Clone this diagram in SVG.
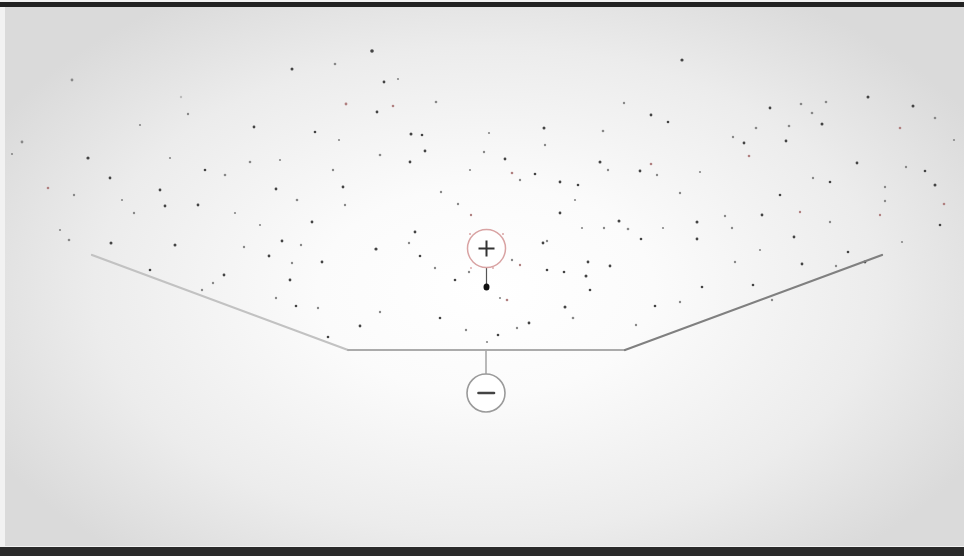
<svg xmlns="http://www.w3.org/2000/svg" width="964" height="556" viewBox="0 0 964 556">
<defs>
<radialGradient id="bg" cx="486" cy="290" r="560" gradientUnits="userSpaceOnUse" gradientTransform="translate(486 290) scale(1 0.62) translate(-486 -290)">
<stop offset="0" stop-color="#ffffff"/>
<stop offset="0.3" stop-color="#fbfbfb"/>
<stop offset="0.7" stop-color="#ececec"/>
<stop offset="1" stop-color="#dadada"/>
</radialGradient>
</defs>
<style>
.a{fill:#444}
.b{fill:#888}
.c{fill:#b08080}
.e{fill:#bbb}
.ln{fill:none;stroke-linecap:round}
</style>
<rect width="964" height="556" fill="#f2f2f2"/>
<rect x="5" y="7" width="959" height="539" fill="url(#bg)"/>
<rect x="0" y="2" width="964" height="5" fill="#222"/>
<rect x="0" y="547" width="964" height="9" fill="#2a2a2a"/>
<g id="dots">
<circle class="a" cx="372" cy="51" r="1.8"/><circle class="a" cx="682" cy="60" r="1.6"/><circle class="a" cx="292" cy="69" r="1.5"/><circle class="b" cx="335" cy="64" r="1.3"/><circle class="b" cx="72" cy="80" r="1.4"/><circle class="a" cx="384" cy="82" r="1.4"/><circle class="a" cx="868" cy="97" r="1.5"/><circle class="c" cx="346" cy="104" r="1.4"/><circle class="a" cx="377" cy="112" r="1.4"/><circle class="b" cx="436" cy="102" r="1.3"/><circle class="e" cx="181" cy="97" r="1.2"/><circle class="b" cx="188" cy="114" r="1.2"/><circle class="b" cx="801" cy="104" r="1.3"/><circle class="b" cx="826" cy="102" r="1.3"/><circle class="a" cx="913" cy="106" r="1.5"/><circle class="b" cx="935" cy="118" r="1.3"/><circle class="a" cx="254" cy="127" r="1.4"/><circle class="a" cx="411" cy="134" r="1.5"/><circle class="a" cx="544" cy="128" r="1.5"/><circle class="b" cx="603" cy="131" r="1.3"/><circle class="b" cx="624" cy="103" r="1.2"/><circle class="a" cx="651" cy="115" r="1.4"/><circle class="a" cx="770" cy="108" r="1.4"/><circle class="b" cx="812" cy="113" r="1.3"/><circle class="b" cx="789" cy="126" r="1.3"/><circle class="a" cx="822" cy="124" r="1.5"/><circle class="c" cx="900" cy="128" r="1.3"/><circle class="b" cx="22" cy="142" r="1.4"/><circle class="a" cx="88" cy="158" r="1.6"/><circle class="b" cx="12" cy="154" r="1.1"/><circle class="a" cx="110" cy="178" r="1.4"/><circle class="a" cx="160" cy="190" r="1.4"/><circle class="b" cx="225" cy="175" r="1.3"/><circle class="a" cx="198" cy="205" r="1.4"/><circle class="b" cx="250" cy="162" r="1.3"/><circle class="a" cx="276" cy="189" r="1.4"/><circle class="b" cx="333" cy="170" r="1.2"/><circle class="a" cx="343" cy="187" r="1.4"/><circle class="b" cx="380" cy="155" r="1.3"/><circle class="a" cx="422" cy="135" r="1.3"/><circle class="a" cx="425" cy="151" r="1.4"/><circle class="b" cx="484" cy="152" r="1.2"/><circle class="a" cx="505" cy="159" r="1.4"/><circle class="c" cx="512" cy="173" r="1.3"/><circle class="b" cx="520" cy="180" r="1.2"/><circle class="a" cx="560" cy="182" r="1.4"/><circle class="a" cx="600" cy="162" r="1.5"/><circle class="b" cx="608" cy="170" r="1.2"/><circle class="a" cx="640" cy="171" r="1.4"/><circle class="c" cx="651" cy="164" r="1.3"/><circle class="b" cx="657" cy="175" r="1.2"/><circle class="b" cx="680" cy="193" r="1.2"/><circle class="a" cx="744" cy="143" r="1.4"/><circle class="b" cx="756" cy="128" r="1.3"/><circle class="a" cx="786" cy="141" r="1.4"/><circle class="b" cx="733" cy="137" r="1.2"/><circle class="c" cx="749" cy="156" r="1.3"/><circle class="b" cx="813" cy="178" r="1.2"/><circle class="a" cx="857" cy="163" r="1.4"/><circle class="b" cx="885" cy="187" r="1.2"/><circle class="a" cx="935" cy="185" r="1.5"/><circle class="c" cx="944" cy="204" r="1.3"/><circle class="c" cx="48" cy="188" r="1.3"/><circle class="b" cx="74" cy="195" r="1.2"/><circle class="b" cx="134" cy="213" r="1.2"/><circle class="a" cx="165" cy="206" r="1.4"/><circle class="b" cx="297" cy="200" r="1.3"/><circle class="a" cx="312" cy="222" r="1.4"/><circle class="a" cx="282" cy="241" r="1.4"/><circle class="b" cx="345" cy="205" r="1.2"/><circle class="a" cx="415" cy="232" r="1.4"/><circle class="b" cx="441" cy="192" r="1.2"/><circle class="b" cx="458" cy="204" r="1.2"/><circle class="c" cx="471" cy="215" r="1.2"/><circle class="a" cx="535" cy="174" r="1.3"/><circle class="b" cx="545" cy="145" r="1.2"/><circle class="a" cx="578" cy="185" r="1.3"/><circle class="a" cx="619" cy="221" r="1.5"/><circle class="b" cx="628" cy="229" r="1.3"/><circle class="a" cx="697" cy="222" r="1.5"/><circle class="a" cx="697" cy="239" r="1.4"/><circle class="b" cx="725" cy="216" r="1.2"/><circle class="b" cx="732" cy="228" r="1.2"/><circle class="a" cx="762" cy="215" r="1.4"/><circle class="b" cx="735" cy="262" r="1.2"/><circle class="a" cx="794" cy="237" r="1.4"/><circle class="b" cx="830" cy="222" r="1.2"/><circle class="a" cx="848" cy="252" r="1.3"/><circle class="a" cx="865" cy="262" r="1.4"/><circle class="b" cx="885" cy="201" r="1.2"/><circle class="b" cx="906" cy="167" r="1.2"/><circle class="a" cx="925" cy="171" r="1.3"/><circle class="a" cx="111" cy="243" r="1.5"/><circle class="b" cx="69" cy="240" r="1.3"/><circle class="a" cx="175" cy="245" r="1.5"/><circle class="b" cx="244" cy="247" r="1.2"/><circle class="a" cx="269" cy="256" r="1.4"/><circle class="b" cx="292" cy="263" r="1.2"/><circle class="a" cx="290" cy="280" r="1.4"/><circle class="b" cx="301" cy="245" r="1.2"/><circle class="a" cx="322" cy="262" r="1.4"/><circle class="a" cx="376" cy="249" r="1.6"/><circle class="b" cx="409" cy="243" r="1.2"/><circle class="a" cx="420" cy="256" r="1.3"/><circle class="b" cx="435" cy="268" r="1.2"/><circle class="a" cx="455" cy="280" r="1.3"/><circle class="b" cx="469" cy="272" r="1.2"/><circle class="a" cx="543" cy="243" r="1.4"/><circle class="b" cx="547" cy="241" r="1.2"/><circle class="a" cx="547" cy="270" r="1.3"/><circle class="a" cx="564" cy="272" r="1.3"/><circle class="a" cx="588" cy="262" r="1.4"/><circle class="a" cx="586" cy="276" r="1.5"/><circle class="b" cx="604" cy="228" r="1.2"/><circle class="b" cx="512" cy="260" r="1.2"/><circle class="c" cx="520" cy="265" r="1.2"/><circle class="a" cx="590" cy="290" r="1.3"/><circle class="a" cx="565" cy="307" r="1.5"/><circle class="b" cx="573" cy="318" r="1.3"/><circle class="c" cx="507" cy="300" r="1.3"/><circle class="b" cx="500" cy="298" r="1.1"/><circle class="a" cx="440" cy="318" r="1.3"/><circle class="b" cx="466" cy="330" r="1.2"/><circle class="a" cx="498" cy="335" r="1.3"/><circle class="a" cx="529" cy="323" r="1.4"/><circle class="b" cx="517" cy="328" r="1.2"/><circle class="b" cx="487" cy="342" r="1.1"/><circle class="a" cx="360" cy="326" r="1.4"/><circle class="a" cx="328" cy="337" r="1.3"/><circle class="b" cx="380" cy="312" r="1.2"/><circle class="b" cx="318" cy="308" r="1.2"/><circle class="a" cx="296" cy="306" r="1.3"/><circle class="b" cx="276" cy="298" r="1.2"/><circle class="a" cx="224" cy="275" r="1.4"/><circle class="b" cx="202" cy="290" r="1.2"/><circle class="b" cx="213" cy="283" r="1.2"/><circle class="a" cx="610" cy="266" r="1.4"/><circle class="b" cx="680" cy="302" r="1.2"/><circle class="a" cx="702" cy="287" r="1.3"/><circle class="a" cx="753" cy="285" r="1.3"/><circle class="b" cx="772" cy="300" r="1.2"/><circle class="a" cx="802" cy="264" r="1.4"/><circle class="b" cx="836" cy="266" r="1.2"/><circle class="a" cx="655" cy="306" r="1.3"/><circle class="b" cx="636" cy="325" r="1.2"/><circle class="c" cx="393" cy="106" r="1.3"/><circle class="b" cx="398" cy="79" r="1.1"/><circle class="a" cx="315" cy="132" r="1.3"/><circle class="b" cx="339" cy="140" r="1.1"/><circle class="b" cx="280" cy="160" r="1.1"/><circle class="a" cx="410" cy="162" r="1.4"/><circle class="b" cx="470" cy="170" r="1.1"/><circle class="b" cx="489" cy="133" r="1.1"/><circle class="a" cx="560" cy="213" r="1.4"/><circle class="b" cx="575" cy="200" r="1.1"/><circle class="b" cx="582" cy="228" r="1.1"/><circle class="a" cx="641" cy="239" r="1.3"/><circle class="b" cx="663" cy="228" r="1.1"/><circle class="a" cx="668" cy="122" r="1.3"/><circle class="b" cx="700" cy="172" r="1.1"/><circle class="a" cx="830" cy="182" r="1.3"/><circle class="c" cx="880" cy="215" r="1.2"/><circle class="b" cx="902" cy="242" r="1.1"/><circle class="a" cx="940" cy="225" r="1.3"/><circle class="b" cx="954" cy="140" r="1.1"/><circle class="b" cx="140" cy="125" r="1.1"/><circle class="b" cx="122" cy="200" r="1.1"/><circle class="b" cx="60" cy="230" r="1.1"/><circle class="a" cx="150" cy="270" r="1.3"/><circle class="b" cx="260" cy="225" r="1.1"/><circle class="b" cx="235" cy="213" r="1.1"/><circle class="a" cx="205" cy="170" r="1.3"/><circle class="b" cx="170" cy="158" r="1.1"/><circle class="a" cx="780" cy="195" r="1.3"/><circle class="b" cx="760" cy="250" r="1.1"/><circle class="c" cx="800" cy="212" r="1.2"/></g>
<g id="connectors">
<path class="ln" d="M92 255 L348 350" stroke="#c2c2c2" stroke-width="2.2"/>
<path class="ln" d="M348 350 L625 350" stroke="#ababab" stroke-width="2"/>
<path class="ln" d="M625 350 L882 255" stroke="#808080" stroke-width="2.2"/>
<path class="ln" d="M486 350 V374" stroke="#a8a8a8" stroke-width="1.6"/>
<path class="ln" d="M486.5 267 V285" stroke="#555" stroke-width="1.2"/>
</g>
<g id="plus-node">
<circle cx="486.5" cy="248.5" r="19" fill="#fff" stroke="#d9a3a3" stroke-width="1.5"/>
<path d="M478.5 248.5 H494.5 M486.5 240.5 V256.5" stroke="#333" stroke-width="2" fill="none"/>
<circle cx="470" cy="234" r="1" fill="#d9a3a3"/><circle cx="503" cy="234" r="1" fill="#d9a3a3"/><circle cx="471" cy="268" r="0.9" fill="#d9a3a3"/><circle cx="493" cy="268" r="0.9" fill="#d9a3a3"/>
</g>
<g id="dot-node">
<ellipse cx="486.5" cy="287" rx="3" ry="3.6" fill="#111"/>
</g>
<g id="minus-node">
<circle cx="486" cy="393" r="19" fill="#fff" stroke="#9a9a9a" stroke-width="1.6"/>
<path d="M478.5 393 H494" stroke="#444" stroke-width="2.6" stroke-linecap="round"/>
</g>
</svg>
